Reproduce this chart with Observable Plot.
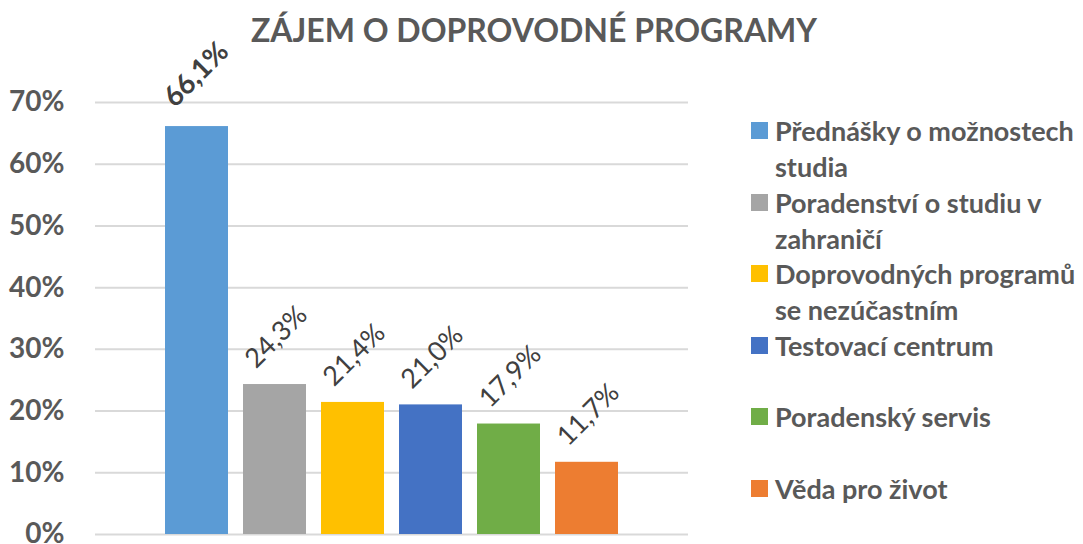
<!DOCTYPE html>
<html><head><meta charset="utf-8">
<script src="https://cdn.jsdelivr.net/npm/d3@7"></script>
<script src="https://cdn.jsdelivr.net/npm/@observablehq/plot@0.6"></script>
<style>
html,body{margin:0;padding:0;background:#fff;}
#wrap{position:relative;width:1083px;height:544px;font-family:Lato,"Open Sans",sans-serif;color:#595959;overflow:hidden;}
#title{position:absolute;left:0;width:1068px;top:8px;text-align:center;font-weight:700;font-size:32px;line-height:44px;color:#595959;}
#legend{position:absolute;left:751px;top:113px;width:332px;}
.item{display:flex;align-items:flex-start;height:71.6px;}
.sw{width:17px;height:17px;flex:none;margin-top:9px;margin-right:7px;}
.lt{font-weight:700;font-size:27px;line-height:36px;width:308px;color:#595959;white-space:normal;}
#chart{position:absolute;left:0;top:0;}
</style></head>
<body>
<div id="wrap">
<div id="chart"></div>
<div id="title"></div>
<div id="legend"></div>
</div>
<script>
const categories = ["Přednášky o možnostech studia","Poradenství o studiu v zahraničí","Doprovodných programů se nezúčastním","Testovací centrum","Poradenský servis","Věda pro život"];
const values = [0.661, 0.243, 0.214, 0.210, 0.179, 0.117];
const colors = ["#5B9BD5","#A5A5A5","#FFC000","#4472C4","#70AD47","#ED7D31"];
const yTicks = [0, 0.1, 0.2, 0.3, 0.4, 0.5, 0.6, 0.7];
const titleText = "ZÁJEM O DOPROVODNÉ PROGRAMY";

const data = categories.map((c, i) => ({cat: c, value: values[i], color: colors[i], bold: i === 0}));
const fmt = v => d3.format(".1f")(v * 100).replace(".", ",") + "%";

document.getElementById("title").textContent = titleText;

const plot = Plot.plot({
  width: 1083,
  height: 544,
  marginTop: 102,
  marginBottom: 10,
  marginLeft: 95,
  marginRight: 395,
  style: {fontFamily: "Lato, 'Open Sans', sans-serif", background: "transparent"},
  x: {domain: categories, paddingInner: 0.19, paddingOuter: 0.85, axis: null},
  y: {domain: [0, 0.7], ticks: yTicks, axis: null},
  color: {domain: categories, range: colors},
  marks: [
    Plot.ruleY(yTicks, {stroke: "#D9D9D9", strokeWidth: 2}),
    Plot.axisY({ticks: yTicks, tickFormat: d => Math.round(d * 100) + "%", tickSize: 0, tickPadding: 31, fontSize: 28, fontWeight: "bold", fill: "#595959", label: null}),
    Plot.barY(data, {x: "cat", y: "value", fill: "cat"}),
    Plot.text(data.filter(d => !d.bold), {x: "cat", y: "value", text: d => fmt(d.value), rotate: -45, textAnchor: "start", lineAnchor: "bottom", dx: -19, dy: -15, fontSize: 27, fill: "#404040"}),
    Plot.text(data.filter(d => d.bold), {x: "cat", y: "value", text: d => fmt(d.value), rotate: -45, textAnchor: "start", lineAnchor: "bottom", dx: -22, dy: -18, fontSize: 28, fontWeight: "bold", fill: "#404040"})
  ]
});
document.getElementById("chart").appendChild(plot);

const legend = document.getElementById("legend");
data.forEach(d => {
  const it = document.createElement("div"); it.className = "item";
  const sw = document.createElement("div"); sw.className = "sw"; sw.style.background = d.color;
  const lt = document.createElement("div"); lt.className = "lt"; lt.textContent = d.cat;
  it.appendChild(sw); it.appendChild(lt); legend.appendChild(it);
});
</script>
</body></html>
